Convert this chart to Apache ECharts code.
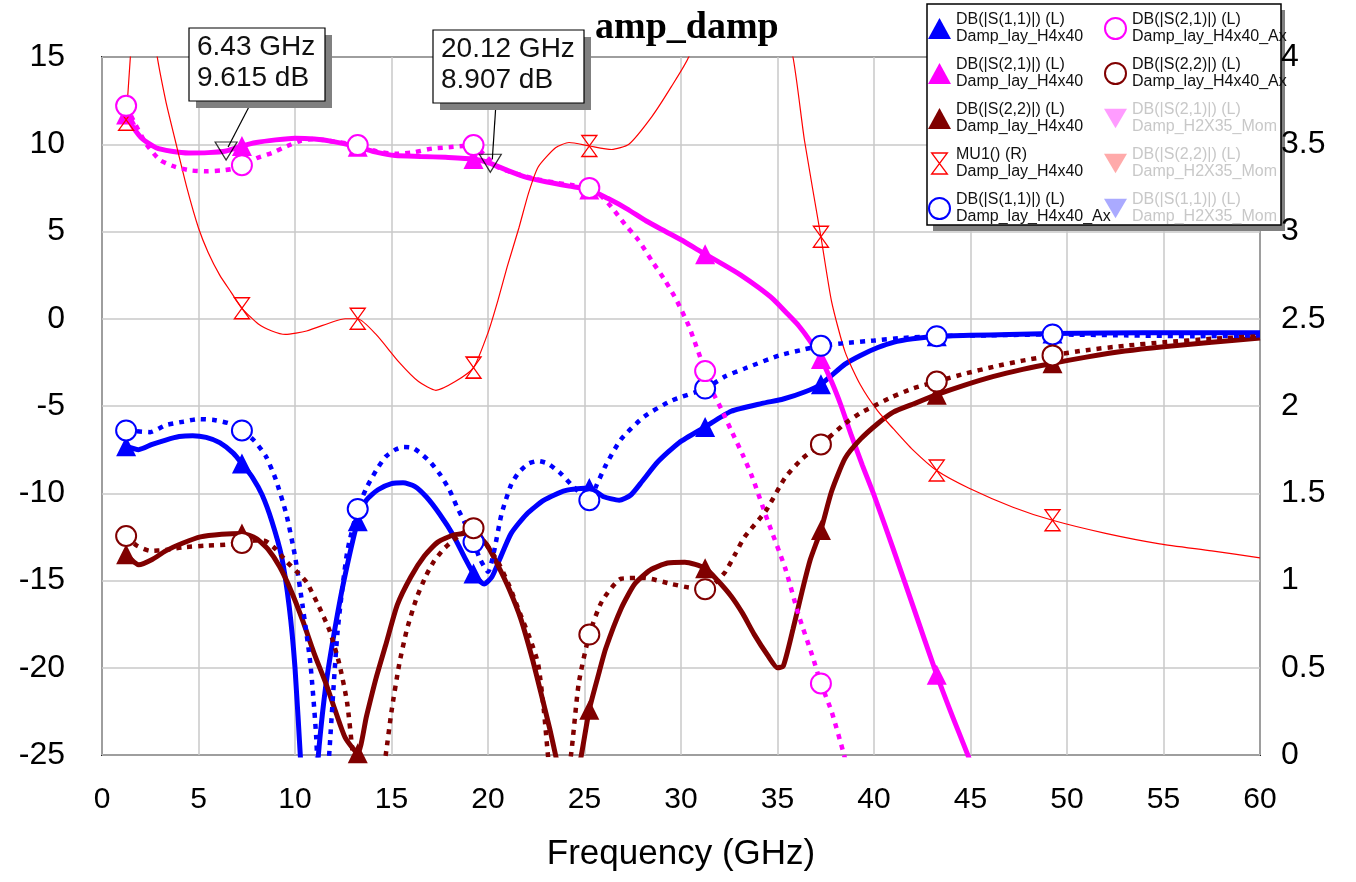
<!DOCTYPE html>
<html>
<head>
<meta charset="utf-8">
<title>amp_damp</title>
<script src="https://cdn.jsdelivr.net/npm/echarts@6/dist/echarts.min.js"></script>
<style>
  html, body { margin: 0; padding: 0; background: #fff; }
  #chart { width: 1356px; height: 882px; }
</style>
</head>
<body>
<div id="chart"></div>
<script>
// frequencies (GHz) where the series symbols sit
var markFreqs = [1.25, 7.25, 13.25, 19.25, 25.25, 31.25, 37.25, 43.25, 49.25]

// DB(|S(1,1)|) Damp_lay_H4x40
var s11Lay = [[1.25, -7.3], [1.9, -7.5], [2.6, -7.2], [3.3, -6.95], [4.0, -6.75], [4.7, -6.7], [5.4, -6.8], [6.1, -7.1], [6.8, -7.7], [7.25, -8.3], [7.8, -9.1], [8.3, -10.1], [8.8, -11.6], [9.3, -13.6], [9.7, -16.5], [10.0, -20], [10.3, -25.5], [10.7, -33], [11.0, -28], [11.25, -24.5], [11.6, -21], [12.0, -18.2], [12.5, -15.2], [13.25, -11.6], [13.7, -10.4], [14.3, -9.8], [15.0, -9.45], [15.6, -9.4], [16.2, -9.6], [16.8, -10.2], [17.5, -11.2], [18.2, -12.4], [18.8, -13.7], [19.25, -14.6], [19.8, -15.2], [20.2, -14.8], [20.6, -13.8], [21.2, -12.3], [22.0, -11.2], [22.9, -10.4], [24.0, -9.85], [25.25, -9.7], [26.0, -10.2], [26.8, -10.4], [27.4, -10.1], [28.0, -9.3], [28.8, -8.2], [29.9, -7.1], [31.25, -6.2], [32.6, -5.3], [34.2, -4.85], [35.3, -4.6], [36.4, -4.2], [37.25, -3.75], [38.5, -2.6], [39.3, -2.1], [40.2, -1.65], [41.0, -1.35], [42.0, -1.15], [43.25, -1.0], [45, -0.95], [47, -0.9], [49.25, -0.85], [52, -0.82], [56, -0.8], [60, -0.8]]

// DB(|S(2,1)|) Damp_lay_H4x40
var s21Lay = [[1.25, 11.7], [1.6, 11.0], [2.1, 10.3], [2.8, 9.8], [3.6, 9.6], [4.5, 9.5], [5.5, 9.52], [6.43, 9.615], [7.25, 9.9], [8.0, 10.1], [9.0, 10.25], [10.0, 10.35], [11.0, 10.3], [12.0, 10.15], [13.25, 9.85], [14.2, 9.55], [15.2, 9.35], [16.5, 9.3], [17.8, 9.25], [19.25, 9.15], [20.12, 8.907], [21.0, 8.5], [22.0, 8.1], [23.0, 7.85], [24.2, 7.6], [25.25, 7.4], [26.2, 6.9], [27.2, 6.3], [28.2, 5.6], [29.2, 5.0], [30.2, 4.4], [31.25, 3.7], [32.2, 3.1], [33.1, 2.5], [34.0, 1.8], [34.8, 1.1], [35.5, 0.3], [36.1, -0.4], [36.7, -1.3], [37.25, -2.3], [37.8, -3.6], [38.3, -5.0], [38.8, -6.6], [39.4, -8.4], [40.0, -10.1], [41.0, -13.2], [42.0, -16.4], [43.25, -20.4], [44.0, -22.6], [45.0, -25.4], [45.5, -27]]

// DB(|S(2,2)|) Damp_lay_H4x40
var s22Lay = [[1.25, -13.5], [1.9, -14.1], [2.6, -13.8], [3.3, -13.3], [4.2, -12.85], [5.1, -12.5], [6.2, -12.35], [7.25, -12.3], [8.0, -12.6], [8.6, -13.2], [9.2, -14.2], [9.8, -15.6], [10.4, -17.3], [11.0, -19.2], [11.6, -20.9], [12.1, -22.5], [12.6, -24.0], [13.25, -24.9], [13.7, -22.8], [14.2, -20.6], [14.7, -18.7], [15.3, -16.4], [16.0, -14.8], [16.7, -13.6], [17.4, -12.8], [18.2, -12.4], [19.25, -12.25], [19.9, -12.9], [20.5, -14.1], [21.1, -15.5], [21.7, -17.2], [22.3, -19.5], [22.8, -21.7], [23.2, -23.5], [23.5, -25.0], [24.1, -28], [24.7, -25.8], [25.25, -22.4], [25.7, -20.5], [26.1, -18.9], [26.9, -16.6], [27.6, -15.2], [28.4, -14.4], [29.3, -14.0], [30.2, -13.95], [31.25, -14.3], [31.9, -15.0], [32.6, -15.9], [33.2, -16.9], [33.8, -18.1], [34.5, -19.3], [35.0, -20.0], [35.3, -19.9], [35.8, -17.8], [36.3, -15.5], [36.7, -13.8], [37.25, -12.1], [37.8, -9.9], [38.5, -8.0], [39.3, -6.9], [40.2, -6.0], [41.0, -5.35], [42.0, -4.9], [43.25, -4.35], [44.7, -3.8], [46.2, -3.3], [47.7, -2.9], [49.25, -2.55], [51, -2.2], [53, -1.85], [55, -1.6], [57.5, -1.35], [60, -1.1]]

// MU1() Damp_lay_H4x40, right axis
var mu1Lay = [[1.25, 3.64], [1.5, 4.05], [1.9, 4.7], [2.4, 4.7], [2.8, 4.05], [3.3, 3.75], [3.8, 3.52], [4.4, 3.25], [5.0, 3.02], [5.5, 2.88], [6.1, 2.75], [6.7, 2.65], [7.25, 2.56], [8.1, 2.47], [8.8, 2.43], [9.5, 2.41], [10.6, 2.43], [11.9, 2.48], [12.6, 2.5], [13.25, 2.5], [14.2, 2.41], [15.4, 2.25], [16.4, 2.14], [17.3, 2.09], [18.3, 2.14], [19.25, 2.22], [20.0, 2.42], [20.5, 2.6], [21.0, 2.8], [21.6, 3.02], [22.1, 3.22], [22.6, 3.37], [23.5, 3.48], [24.2, 3.51], [25.25, 3.49], [26.4, 3.47], [27.3, 3.5], [28.5, 3.66], [29.5, 3.83], [30.4, 4.0], [31.25, 4.3], [33, 4.8], [34.8, 4.4], [35.8, 4.0], [36.4, 3.52], [37.25, 2.97], [37.8, 2.6], [38.5, 2.31], [39.3, 2.12], [40.2, 1.97], [41.0, 1.87], [42.0, 1.75], [43.25, 1.63], [44.9, 1.53], [47.2, 1.42], [49.25, 1.345], [52.0, 1.27], [54.8, 1.21], [57.5, 1.17], [60, 1.13]]

// DB(|S(1,1)|) Damp_lay_H4x40_Ax
var s11Ax = [[1.25, -6.4], [1.8, -6.45], [2.5, -6.5], [3.3, -6.1], [4.2, -5.9], [5.0, -5.75], [5.8, -5.8], [6.6, -6.0], [7.25, -6.4], [7.9, -7.0], [8.5, -7.9], [9.0, -9.2], [9.55, -11.2], [10.0, -13.6], [10.4, -16.5], [10.8, -19.8], [11.1, -24.0], [11.4, -32], [11.6, -28], [11.8, -24.5], [12.2, -18], [12.7, -13.4], [13.25, -10.9], [13.7, -9.7], [14.2, -8.7], [14.7, -7.9], [15.2, -7.5], [15.6, -7.35], [16.1, -7.4], [16.5, -7.7], [17.0, -8.2], [17.5, -8.9], [18.0, -9.8], [18.4, -10.8], [18.8, -11.7], [19.25, -12.8], [19.6, -13.8], [20.0, -14.5], [20.3, -13.4], [20.7, -11.2], [21.2, -9.5], [21.6, -8.8], [22.1, -8.3], [22.6, -8.15], [23.1, -8.3], [23.8, -8.9], [24.4, -9.6], [25.25, -10.4], [25.6, -9.6], [26.1, -8.4], [26.9, -6.9], [28.1, -5.6], [29.5, -4.7], [31.25, -4.0], [32.3, -3.3], [33.3, -2.85], [35.1, -2.1], [36.2, -1.8], [37.25, -1.55], [38.5, -1.4], [40, -1.25], [41.5, -1.1], [43.25, -1.0], [46, -0.95], [49.25, -0.9], [53, -0.95], [56.5, -1.0], [60, -0.95]]

// DB(|S(2,1)|) Damp_lay_H4x40_Ax
var s21Ax = [[1.25, 12.2], [1.7, 11.2], [2.3, 10.0], [3.0, 9.1], [3.8, 8.7], [4.6, 8.5], [5.4, 8.45], [6.2, 8.5], [6.8, 8.6], [7.25, 8.8], [8.0, 9.2], [8.8, 9.5], [9.6, 9.9], [10.3, 10.2], [11, 10.3], [12, 10.15], [13.25, 9.95], [14.2, 9.6], [15.2, 9.45], [16.2, 9.55], [17.1, 9.75], [18.2, 9.85], [19.25, 9.95], [19.8, 9.4], [20.5, 8.7], [21.5, 8.3], [22.5, 8.0], [23.5, 7.8], [24.4, 7.65], [25.25, 7.5], [25.8, 7.1], [26.4, 6.4], [27.1, 5.4], [27.8, 4.5], [28.5, 3.3], [29.2, 2.15], [29.8, 1.0], [30.4, -0.4], [30.8, -1.6], [31.25, -3.0], [31.6, -4.1], [32.1, -5.2], [32.6, -6.4], [33.2, -7.8], [33.7, -9.1], [34.5, -11.6], [35.4, -14.3], [36.1, -17.0], [36.8, -19.3], [37.25, -20.9], [37.8, -22.5], [38.4, -24.8], [38.8, -26.5]]

// DB(|S(2,2)|) Damp_lay_H4x40_Ax
var s22Ax = [[1.25, -12.45], [1.8, -13.0], [2.5, -13.3], [3.3, -13.25], [4.2, -13.1], [5.4, -13.0], [6.4, -12.95], [7.25, -12.85], [8.0, -12.7], [8.5, -12.75], [9.0, -13.2], [9.55, -13.9], [10.1, -14.5], [10.6, -15.1], [11.2, -16.4], [11.8, -17.9], [12.3, -19.8], [12.7, -22.0], [13.0, -25.0], [13.25, -27.5], [13.7, -30], [14.2, -28.5], [14.7, -25.0], [15.0, -22.5], [15.4, -19.8], [15.8, -17.8], [16.3, -16.0], [16.8, -14.7], [17.2, -13.9], [17.7, -13.2], [18.2, -12.7], [18.8, -12.2], [19.25, -12.0], [19.7, -12.6], [20.5, -13.9], [21.1, -15.3], [21.7, -17.0], [22.2, -18.4], [22.6, -19.8], [22.9, -22.5], [23.2, -26], [23.7, -29], [24.3, -25.0], [24.7, -20.9], [25.25, -18.1], [25.9, -16.2], [26.9, -14.9], [28.1, -14.85], [29.5, -15.2], [30.4, -15.4], [31.25, -15.5], [31.8, -15.1], [32.3, -14.5], [32.8, -13.5], [33.3, -12.5], [34.4, -11.0], [35.4, -9.1], [36.3, -8.0], [37.25, -7.2], [38.5, -6.0], [39.3, -5.4], [40.0, -5.0], [40.9, -4.5], [42.0, -4.0], [43.25, -3.6], [44.7, -3.15], [46.2, -2.75], [47.7, -2.4], [49.25, -2.1], [51, -1.8], [53, -1.55], [55, -1.35], [57.5, -1.15], [60, -1.0]]

// the two readout markers on S21
var markerFreq = [6.43, 20.12]
var markerDb = [9.615, 8.907]

var FONT = '"Liberation Sans", Arial, sans-serif'
var HOURGLASS = 'path://M0,0 L12,0 L0,16 L12,16 Z'
var DOWN_TRI = 'path://M0,0 L20,0 L10,17 Z'

var chart = echarts.init(document.getElementById('chart'))

function isMark (f) {
  return markFreqs.indexOf(f) >= 0
}

function curve (name, data, color, symbol, dotted) {
  return {
    name: name,
    type: 'line',
    data: data,
    smooth: 0.2,
    symbol: symbol,
    showSymbol: true,
    symbolSize: function (v) { return isMark(v[0]) ? 20 : 0 },
    lineStyle: { color: color, width: dotted ? 4.5 : 5, type: dotted ? [5, 6] : 'solid' },
    itemStyle: { color: color, borderColor: color, borderWidth: dotted ? 3 : 0 },
    emphasis: { disabled: true },
    z: dotted ? 3 : 2
  }
}

function ghost (name) {
  return { name: name, type: 'line', data: [] }
}

var legendText = {
  fontFamily: FONT,
  fontSize: 16,
  lineHeight: 17,
  color: '#111',
  padding: [17, 0, 0, 0],
  width: 159,
  overflow: 'truncate',
  ellipsis: ''
}
var fadedText = { color: '#c8c8c8' }

var option = {
  animation: false,
  backgroundColor: '#fff',
  title: {
    text: 'amp_damp',
    left: 590,
    top: 4,
    textStyle: {
      fontFamily: '"Liberation Serif", "Times New Roman", serif',
      fontWeight: 'bold',
      fontSize: 38,
      color: '#000'
    }
  },
  grid: {
    left: 102,
    right: 96,
    top: 57,
    bottom: 127,
    show: true,
    borderColor: '#222',
    borderWidth: 2
  },
  legend: [
    {
      left: 928,
      top: 3,
      padding: 0,
      orient: 'vertical',
      itemWidth: 23,
      itemHeight: 21,
      itemGap: -6,
      selectedMode: false,
      z: 20,
      textStyle: legendText,
      data: [
        { name: 'DB(|S(1,1)|) (L)\nDamp_lay_H4x40', icon: 'triangle', itemStyle: { color: '#0000ff' } },
        { name: 'DB(|S(2,1)|) (L)\nDamp_lay_H4x40', icon: 'triangle', itemStyle: { color: '#ff00ff' } },
        { name: 'DB(|S(2,2)|) (L)\nDamp_lay_H4x40', icon: 'triangle', itemStyle: { color: '#800000' } },
        { name: 'MU1() (R)\nDamp_lay_H4x40', icon: HOURGLASS, itemStyle: { color: 'rgba(0,0,0,0)', borderColor: '#ff0000', borderWidth: 1.3 } },
        { name: 'DB(|S(1,1)|) (L)\nDamp_lay_H4x40_Ax', icon: 'emptyCircle', itemStyle: { color: '#0000ff' } }
      ]
    },
    {
      left: 1104,
      top: 3,
      padding: 0,
      orient: 'vertical',
      itemWidth: 23,
      itemHeight: 21,
      itemGap: -6,
      selectedMode: false,
      z: 20,
      textStyle: legendText,
      data: [
        { name: 'DB(|S(2,1)|) (L)\nDamp_lay_H4x40_Ax', icon: 'emptyCircle', itemStyle: { color: '#ff00ff' } },
        { name: 'DB(|S(2,2)|) (L)\nDamp_lay_H4x40_Ax', icon: 'emptyCircle', itemStyle: { color: '#800000' } },
        { name: 'DB(|S(2,1)|) (L)\nDamp_H2X35_Mom', icon: DOWN_TRI, itemStyle: { color: '#ff9cff' }, textStyle: fadedText },
        { name: 'DB(|S(2,2)|) (L)\nDamp_H2X35_Mom', icon: DOWN_TRI, itemStyle: { color: '#ffaaaa' }, textStyle: fadedText },
        { name: 'DB(|S(1,1)|) (L)\nDamp_H2X35_Mom', icon: DOWN_TRI, itemStyle: { color: '#aaaaff' }, textStyle: fadedText }
      ]
    }
  ],
  xAxis: {
    type: 'value',
    min: 0,
    max: 60,
    interval: 5,
    axisLine: { show: false },
    axisTick: { show: false },
    splitLine: { lineStyle: { color: '#c8c8c8', width: 1.5 } },
    axisLabel: { fontFamily: FONT, fontSize: 30, color: '#000', margin: 30 },
    name: 'Frequency (GHz)',
    nameLocation: 'middle',
    nameGap: 82,
    nameTextStyle: { fontFamily: FONT, fontSize: 35, color: '#000' }
  },
  yAxis: [
    {
      type: 'value',
      min: -25,
      max: 15,
      interval: 5,
      axisLine: { show: false },
      axisTick: { show: false },
      splitLine: { lineStyle: { color: '#c8c8c8', width: 1.5 } },
      axisLabel: { fontFamily: FONT, fontSize: 32, color: '#000', margin: 37 }
    },
    {
      type: 'value',
      position: 'right',
      min: 0,
      max: 4,
      interval: 0.5,
      z: 30,
      axisLine: { show: false },
      axisTick: { show: false },
      splitLine: { show: false },
      axisLabel: { fontFamily: FONT, fontSize: 32, color: '#000', margin: 21 }
    }
  ],
  series: [
    curve('DB(|S(1,1)|) (L)\nDamp_lay_H4x40', s11Lay, '#0000ff', 'triangle', false),
    curve('DB(|S(2,1)|) (L)\nDamp_lay_H4x40', s21Lay, '#ff00ff', 'triangle', false),
    curve('DB(|S(2,2)|) (L)\nDamp_lay_H4x40', s22Lay, '#800000', 'triangle', false),
    {
      name: 'MU1() (R)\nDamp_lay_H4x40',
      type: 'line',
      yAxisIndex: 1,
      data: mu1Lay,
      smooth: 0.2,
      symbol: HOURGLASS,
      symbolSize: function (v) { return isMark(v[0]) ? [15, 21] : 0 },
      lineStyle: { color: '#ff0000', width: 1.2 },
      itemStyle: { color: 'rgba(0,0,0,0)', borderColor: '#ff0000', borderWidth: 1.3 },
      emphasis: { disabled: true },
      z: 2
    },
    curve('DB(|S(1,1)|) (L)\nDamp_lay_H4x40_Ax', s11Ax, '#0000ff', 'emptyCircle', true),
    curve('DB(|S(2,1)|) (L)\nDamp_lay_H4x40_Ax', s21Ax, '#ff00ff', 'emptyCircle', true),
    curve('DB(|S(2,2)|) (L)\nDamp_lay_H4x40_Ax', s22Ax, '#800000', 'emptyCircle', true),
    ghost('DB(|S(2,1)|) (L)\nDamp_H2X35_Mom'),
    ghost('DB(|S(2,2)|) (L)\nDamp_H2X35_Mom'),
    ghost('DB(|S(1,1)|) (L)\nDamp_H2X35_Mom'),
    {
      name: 'markers',
      type: 'scatter',
      data: markerFreq.map(function (f, i) { return [f, markerDb[i]] }),
      symbol: DOWN_TRI,
      symbolSize: [22, 18],
      itemStyle: { color: 'rgba(0,0,0,0)', borderColor: '#000', borderWidth: 1.2 },
      emphasis: { disabled: true },
      z: 6
    }
  ]
}

chart.setOption(option)

// readout boxes with leader lines, and the legend frame
var boxes = [
  { x: 189, y: 28, w: 136, h: 73 },
  { x: 433, y: 30, w: 151, h: 73 }
]
var graphics = [
  { type: 'rect', shape: { x: 933, y: 10, width: 352, height: 221 }, style: { fill: '#808080' }, z: 15 },
  { type: 'rect', shape: { x: 927, y: 4, width: 354, height: 221 }, style: { fill: '#fff', stroke: '#000', lineWidth: 1.5 }, z: 16 }
]
markerFreq.forEach(function (f, i) {
  var b = boxes[i]
  var p = chart.convertToPixel({ xAxisIndex: 0, yAxisIndex: 0 }, [f, markerDb[i]])
  graphics.push({
    type: 'line',
    shape: { x1: b.x + 63, y1: b.y + b.h, x2: p[0] + 2, y2: p[1] - 4 },
    style: { stroke: '#000', lineWidth: 1.2 },
    z: 15
  })
  graphics.push({ type: 'rect', shape: { x: b.x + 7, y: b.y + 7, width: b.w, height: b.h }, style: { fill: '#808080' }, z: 15 })
  graphics.push({ type: 'rect', shape: { x: b.x, y: b.y, width: b.w, height: b.h }, style: { fill: '#fff', stroke: '#000', lineWidth: 1.2 }, z: 16 })
  graphics.push({
    type: 'text',
    style: {
      text: f + ' GHz\n' + markerDb[i] + ' dB',
      x: b.x + 8,
      y: b.y + 4,
      font: '28px "Liberation Sans", Arial, sans-serif',
      lineHeight: 31,
      fill: '#111'
    },
    z: 17
  })
})
chart.setOption({ graphic: graphics })
</script>
</body>
</html>
